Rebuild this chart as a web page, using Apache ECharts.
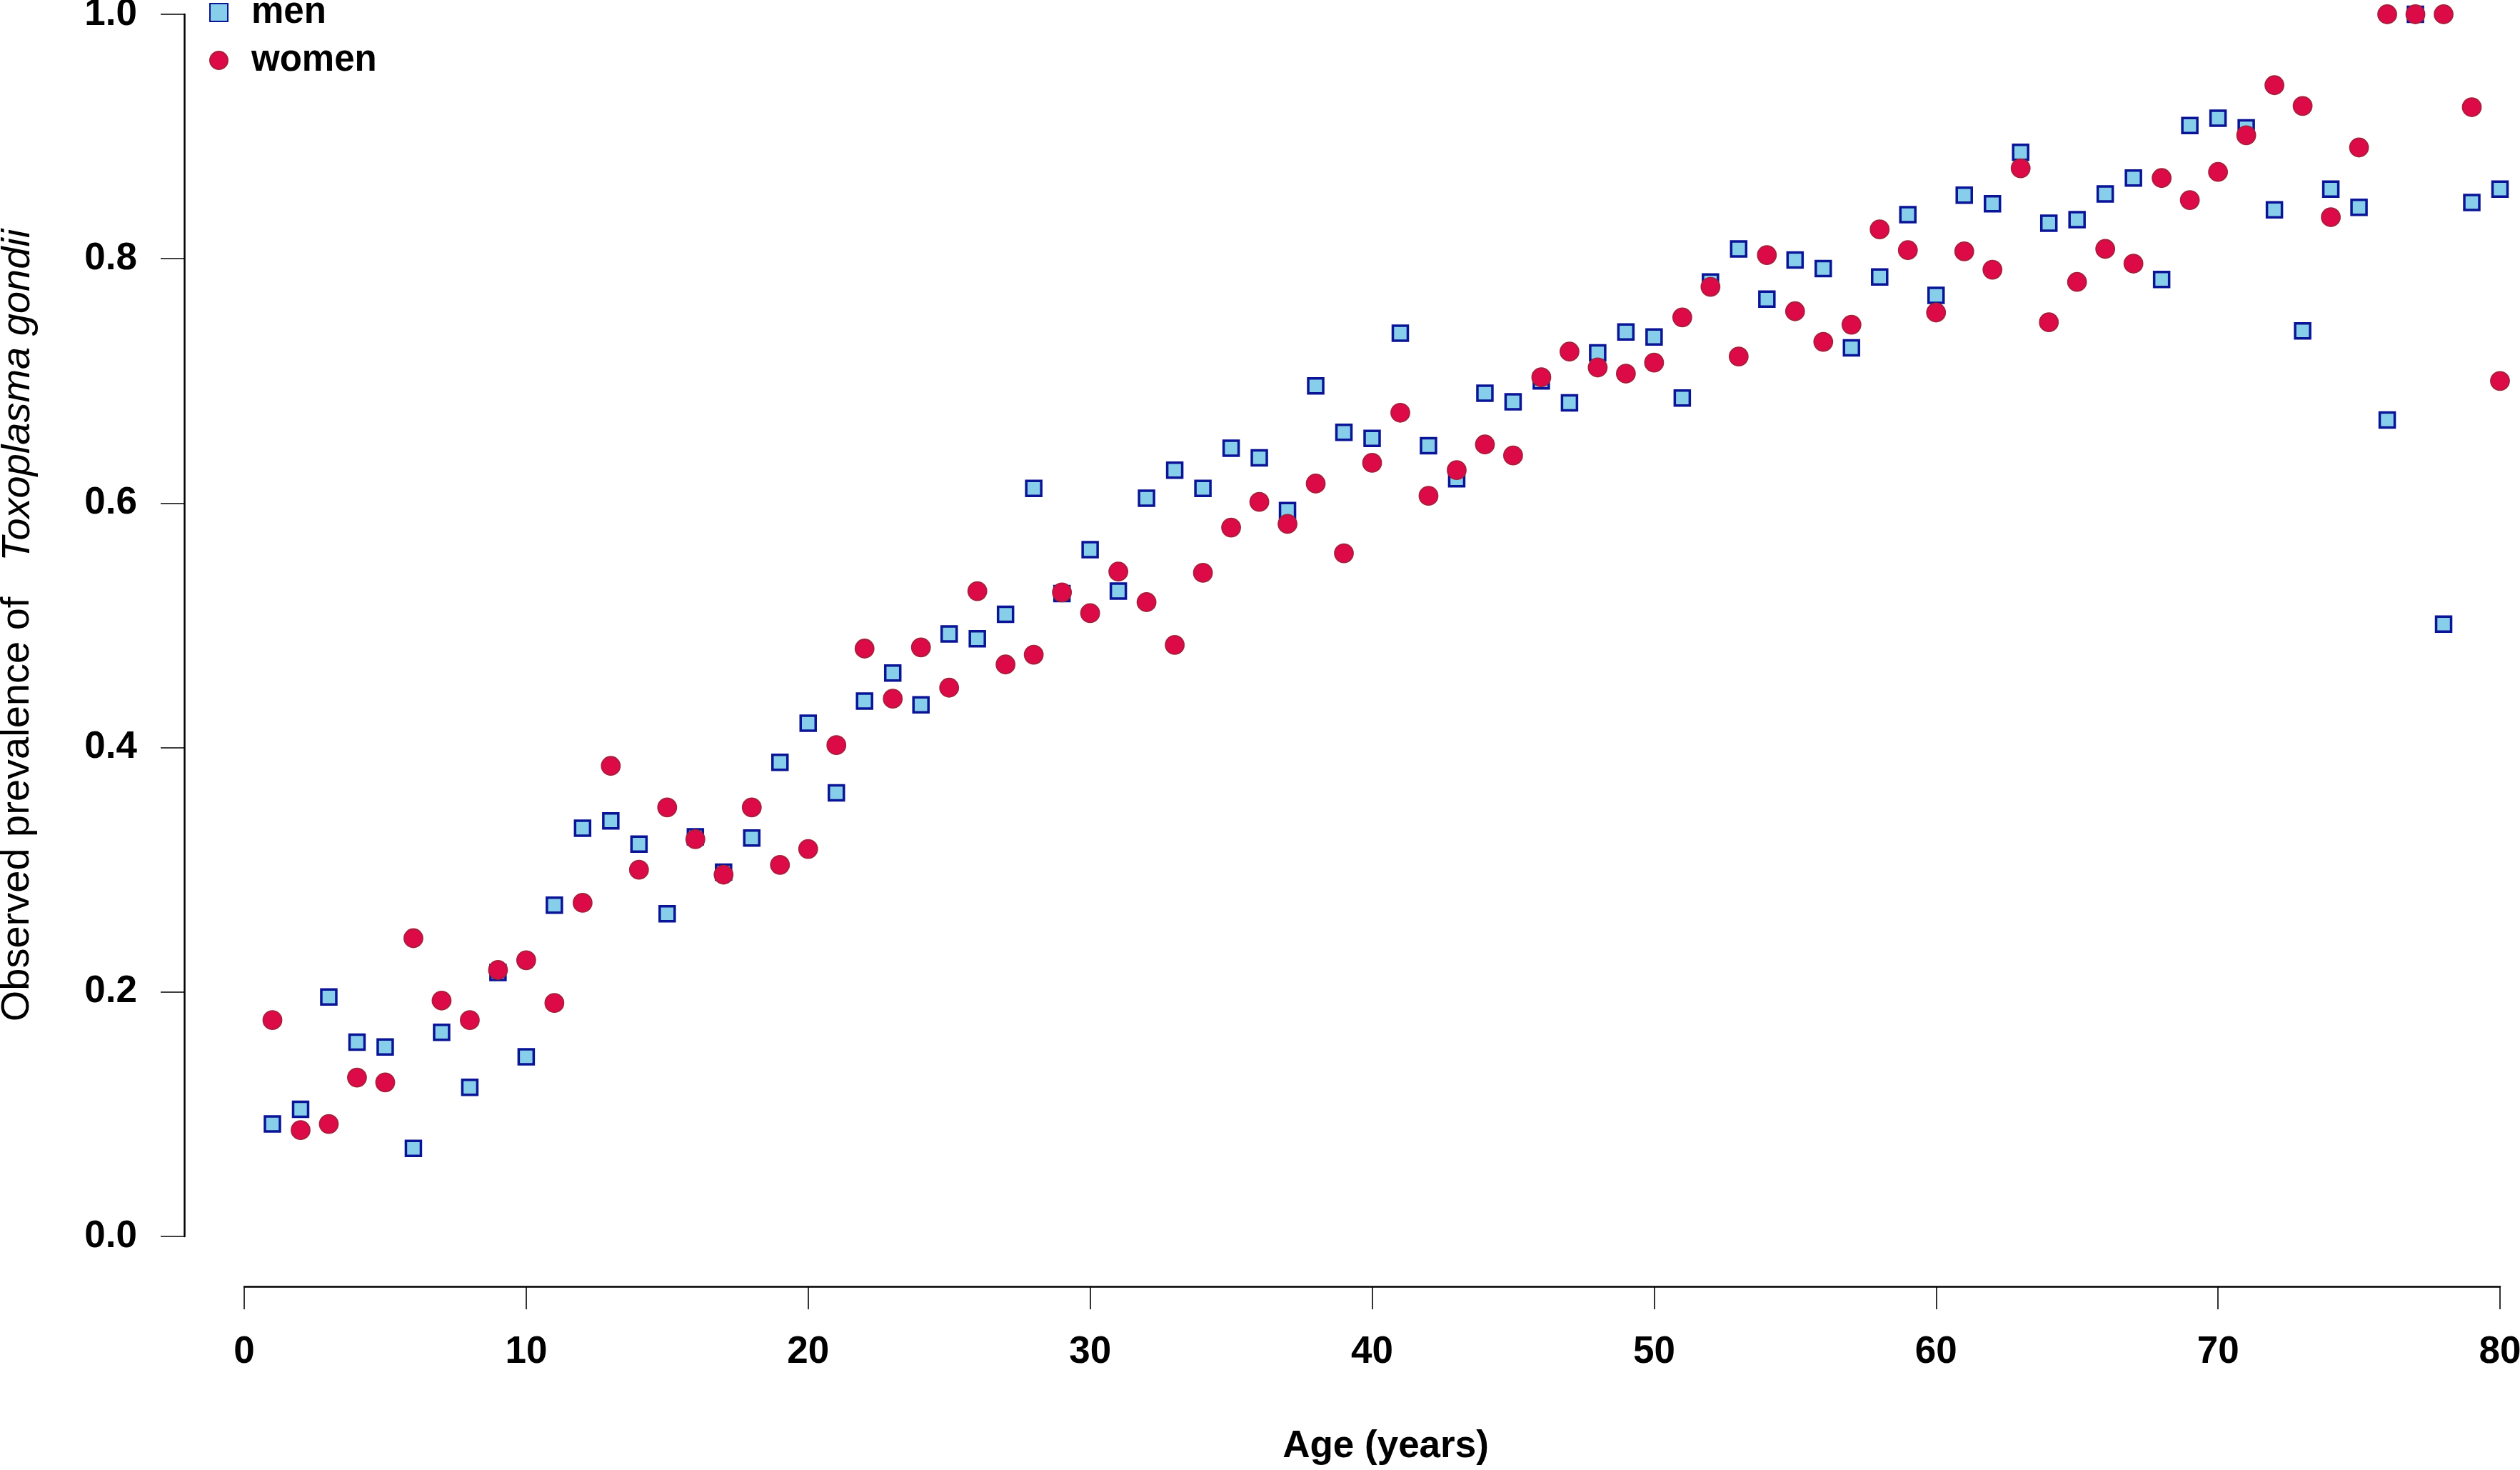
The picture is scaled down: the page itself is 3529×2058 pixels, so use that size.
<!DOCTYPE html>
<html>
<head>
<meta charset="utf-8">
<script src="https://cdn.jsdelivr.net/npm/echarts@6/dist/echarts.min.js"></script>
<style>
html,body{margin:0;padding:0;background:#fff;}
#chart{width:3529px;height:2058px;}
</style>
</head>
<body>
<div id="chart"></div>
<script>
// Ages 1..80
const ages = [];
for (let a = 1; a <= 80; a++) ages.push(a);

const men = [
0.092,0.104,0.196,0.159,0.155,0.072,0.167,0.122,0.216,0.147,
0.271,0.334,0.340,0.321,0.264,0.327,0.298,0.326,0.388,0.420,
0.363,0.438,0.461,0.435,0.493,0.489,0.509,0.612,0.526,0.562,
0.528,0.604,0.627,0.612,0.645,0.637,0.594,0.696,0.658,0.653,
0.739,0.647,0.620,0.690,0.683,0.700,0.682,0.723,0.740,0.736,
0.686,0.781,0.808,0.767,0.799,0.792,0.727,0.785,0.836,0.770,
0.852,0.845,0.887,0.829,0.832,0.853,0.866,0.783,0.909,0.915,
0.907,0.840,0.741,0.857,0.842,0.668,1.000,0.501,0.846,0.857
];

const women = [
0.177,0.087,0.092,0.130,0.126,0.244,0.193,0.177,0.218,0.226,
0.191,0.273,0.385,0.300,0.351,0.325,0.296,0.351,0.304,0.317,
0.402,0.481,0.440,0.482,0.449,0.528,0.468,0.476,0.527,0.510,
0.544,0.519,0.484,0.543,0.580,0.601,0.583,0.616,0.559,0.633,
0.674,0.606,0.627,0.648,0.639,0.703,0.724,0.711,0.706,0.715,
0.752,0.777,0.720,0.803,0.757,0.732,0.746,0.824,0.807,0.756,
0.806,0.791,0.874,0.748,0.781,0.808,0.796,0.866,0.848,0.871,
0.901,0.942,0.925,0.834,0.891,1.000,1.000,1.000,0.924,0.700
];

const xTicks = [0,10,20,30,40,50,60,70,80];
const yTicks = [0,0.2,0.4,0.6,0.8,1.0];

const FONT = '"Liberation Sans", Arial, Helvetica, sans-serif';

const chart = echarts.init(document.getElementById('chart'), null, {renderer:'canvas'});
chart.setOption({
  backgroundColor:'#ffffff',
  animation:false,
  grid:{left:342, right:28, top:20, bottom:327, containLabel:false, outerBoundsMode:'none'},
  legend:{
    orient:'vertical', left:293, top:-8, padding:0,
    itemWidth:25, itemHeight:25, itemGap:16,
    textStyle:{fontFamily:FONT, fontWeight:'bold', fontSize:51, lineHeight:40, color:'#000', padding:[0,0,0,28]},
    data:[{name:'men', icon:'rect'},{name:'women', icon:'circle'}]
  },
  xAxis:{
    type:'value', min:0, max:80, interval:10,
    offset:70,
    axisLine:{show:true, onZero:false, lineStyle:{color:'#000', width:2.5}},
    axisTick:{show:true, length:32, lineStyle:{color:'#000', width:1.6}},
    axisLabel:{fontFamily:FONT, fontWeight:'bold', fontSize:53, color:'#000', margin:66,
      formatter:v=> xTicks.indexOf(v)>=0 ? String(v) : ''},
    splitLine:{show:false},
    name:'Age (years)', nameLocation:'middle', nameGap:198,
    nameTextStyle:{fontFamily:FONT, fontWeight:'bold', fontSize:53, color:'#000', padding:[0,0,0,38]}
  },
  yAxis:{
    type:'value', min:0, max:1, interval:0.2,
    offset:84,
    axisLine:{show:true, onZero:false, lineStyle:{color:'#000', width:2.5}},
    axisTick:{show:true, length:33, lineStyle:{color:'#000', width:1.6}},
    axisLabel:{fontFamily:FONT, fontWeight:'bold', fontSize:53, color:'#000', margin:66,
      formatter:v=> yTicks.some(t=>Math.abs(t-v)<1e-9) ? v.toFixed(1) : ''},
    splitLine:{show:false},
    name:'{a|Observed prevalence of}{b|Toxoplasma gondii}',
    nameLocation:'middle', nameGap:205, nameRotate:90,
    nameTextStyle:{
      rich:{
        a:{fontFamily:FONT, fontSize:56, color:'#000'},
        b:{fontFamily:FONT, fontSize:56, fontStyle:'italic', color:'#000', padding:[0,0,0,50]}
      }
    }
  },
  series:[
    {
      name:'men', type:'scatter', clip:false,
      symbol:'rect', symbolSize:21,
      itemStyle:{color:'#87CEEB', borderColor:'#0A1496', borderWidth:3.5, opacity:1},
      data: ages.map((a,i)=>[a, men[i]]),
      z:2
    },
    {
      name:'women', type:'scatter', clip:false,
      symbol:'circle', symbolSize:26,
      itemStyle:{color:'#DC0A46', borderColor:'#A8203C', borderWidth:1.8, opacity:1},
      data: ages.map((a,i)=>[a, women[i]]),
      z:3
    }
  ]
});
</script>
</body>
</html>
